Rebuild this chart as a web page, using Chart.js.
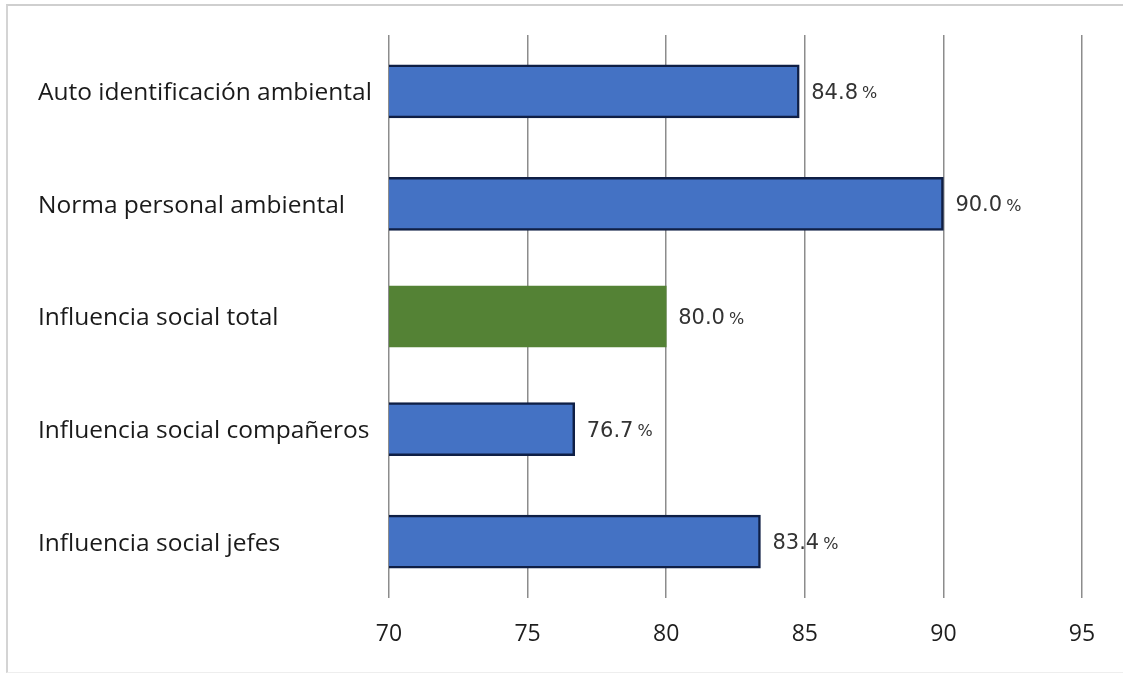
<!DOCTYPE html>
<html lang="es">
<head>
<meta charset="utf-8">
<title>Indicadores ambientales</title>
<script src="https://cdn.jsdelivr.net/npm/chart.js@4"></script>
<style>
  html, body { margin: 0; padding: 0; background: #fff; }
  #wrap { position: relative; width: 1123px; height: 675px; }
  #frame {
    position: absolute; left: 6px; top: 4px; right: -4px; bottom: 2px;
    border-top: 2px solid #cfcfcf; border-left: 2px solid #d4d4d4;
    border-bottom: 1px solid #eeeeee; pointer-events: none;
  }
  canvas { position: absolute; left: 0; top: 0; }
</style>
</head>
<body>
<div id="wrap">
  <canvas id="chart" width="1123" height="675"></canvas>
  <div id="frame"></div>
</div>
<script>
// Categories (top to bottom) and their percentages
const categories = [
  'Auto identificación ambiental',
  'Norma personal ambiental',
  'Influencia social total',
  'Influencia social compañeros',
  'Influencia social jefes'
];
const values = [84.8, 90.0, 80.0, 76.7, 83.4];
// Index of the bar shown as the overall total
const totalIndex = 2;
// Axis tick values
const xTicks = [70, 75, 80, 85, 90, 95];

const blueData = values.map((v, i) => (i === totalIndex ? null : v));
const greenData = values.map((v, i) => (i === totalIndex ? v : null));

// Writes "84.8 %" to the right of each bar, with a smaller percent sign
const valueLabels = {
  id: 'valueLabels',
  afterDatasetsDraw(chart) {
    const ctx = chart.ctx;
    ctx.save();
    ctx.textBaseline = 'middle';
    ctx.textAlign = 'left';
    chart.data.datasets.forEach((ds, di) => {
      const meta = chart.getDatasetMeta(di);
      meta.data.forEach((bar, i) => {
        const v = ds.data[i];
        if (v === null || v === undefined) return;
        const num = v.toFixed(1);
        let x = bar.x + 12;
        const y = bar.y + 2;
        ctx.fillStyle = '#333333';
        ctx.font = '21px "DejaVu Sans"';
        ctx.fillText(num, x, y);
        x += ctx.measureText(num).width + 4;
        ctx.font = '16px "DejaVu Sans"';
        ctx.fillText('%', x, y + 1);
      });
    });
    ctx.restore();
  }
};

new Chart(document.getElementById('chart'), {
  type: 'bar',
  data: {
    labels: categories,
    datasets: [
      {
        data: blueData,
        backgroundColor: '#4472c4',
        borderColor: '#0f1f45',
        borderWidth: 2.5,
        borderSkipped: false,
        barThickness: 53,
        grouped: false
      },
      {
        data: greenData,
        backgroundColor: '#548235',
        borderWidth: 0,
        barThickness: 61,
        grouped: false
      }
    ]
  },
  options: {
    indexAxis: 'y',
    responsive: false,
    animation: false,
    devicePixelRatio: 1,
    layout: { padding: { left: 38, right: 41, top: 35, bottom: 0 } },
    plugins: {
      legend: { display: false },
      tooltip: { enabled: false }
    },
    scales: {
      x: {
        type: 'linear',
        min: xTicks[0],
        max: xTicks[xTicks.length - 1],
        afterBuildTicks(scale) {
          scale.ticks = xTicks.map(v => ({ value: v }));
        },
        afterFit(scale) { scale.height = 77; },
        grid: { color: '#8c8c8c', lineWidth: 1.5, drawTicks: false },
        border: { display: false },
        ticks: {
          padding: 23,
          color: '#1e1e1e',
          font: { family: '"Open Sans"', size: 23 }
        }
      },
      y: {
        afterFit(scale) { scale.width = 389 - 38; },
        grid: { display: false },
        border: { display: false },
        ticks: {
          crossAlign: 'far',
          labelOffset: 2,
          color: '#1a1a1a',
          font: { family: '"Open Sans"', size: 24.5 }
        }
      }
    }
  },
  plugins: [valueLabels]
});
</script>
</body>
</html>
